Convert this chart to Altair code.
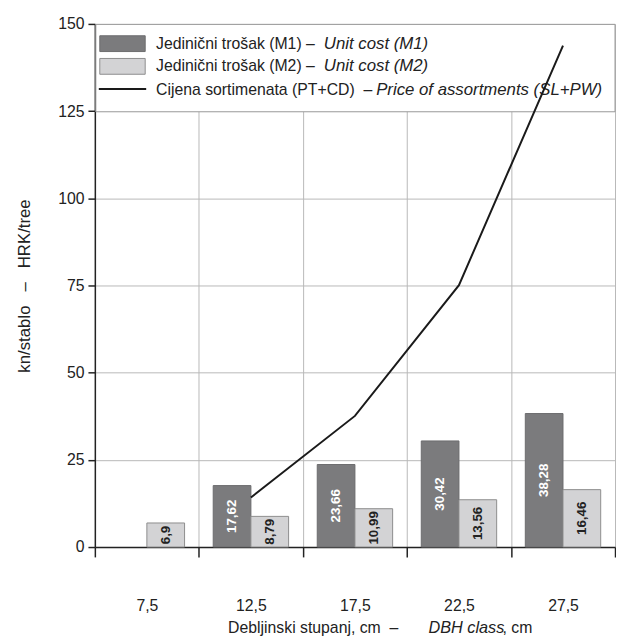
import altair as alt
import pandas as pd

# ---- data ----
dbh = ["7,5", "12,5", "17,5", "22,5", "27,5"]
m1 = [None, 17.62, 23.66, 30.42, 38.28]
m2 = [6.9, 8.79, 10.99, 13.56, 16.46]
price = [None, 14.2, 37.6, 75.1, 143.8]
series = ["M1", "M2"]
y_ticks = [0, 25, 50, 75, 100, 125, 150]

rows = []
for c, a, b in zip(dbh, m1, m2):
    if a is not None:
        rows.append({"dbh": c, "s": "M1", "v": a})
    if b is not None:
        rows.append({"dbh": c, "s": "M2", "v": b})
bars_df = pd.DataFrame(rows)
line_df = pd.DataFrame({"dbh": dbh, "price": price}).dropna()
one = pd.DataFrame({"k": [0]})

W, H = 527, 530
FONT = "Liberation Sans"
TXT = "#222222"
DARK = "#7b7b7d"
LIGHT = "#d3d3d5"
NB = "\u00a0"

xscale = alt.Scale(domain=dbh, paddingInner=0, paddingOuter=0)
xaxis = alt.Axis(title=None, labelAngle=0, tickBand="extent", tickSize=10,
                 tickColor=TXT, tickWidth=1.5, domainColor=TXT, domainWidth=1.5,
                 labelFontSize=16, labelFont=FONT, labelColor=TXT, labelPadding=41,
                 grid=True, gridColor="#b8b8b8", gridWidth=1)
yscale = alt.Scale(domain=[0, 150], nice=False)
yaxis = alt.Axis(title=f"kn/stablo{NB*3}–{NB*3}HRK/tree", values=y_ticks, tickSize=7,
                 tickColor=TXT, tickWidth=1.5, domainColor=TXT, domainWidth=1.5,
                 labelFontSize=16, labelFont=FONT, labelColor=TXT, labelPadding=4,
                 grid=True, gridColor="#b8b8b8", gridWidth=1,
                 titleFont=FONT, titleFontSize=17, titleFontWeight="normal",
                 titleColor=TXT, titleX=-71, titleY=H / 2, titleAngle=270,
                 titleAlign="center", titleBaseline="middle")

x = alt.X("dbh:N", scale=xscale, axis=xaxis)
xo = alt.XOffset("s:N", scale=alt.Scale(domain=series, paddingOuter=0.38, paddingInner=0))
is_m1 = "datum.s == 'M1'"

bars = alt.Chart(bars_df).mark_bar(strokeWidth=1).encode(
    x=x, xOffset=xo,
    y=alt.Y("v:Q", scale=yscale, axis=yaxis),
    fill=alt.condition(is_m1, alt.value(DARK), alt.value(LIGHT)),
    stroke=alt.condition(is_m1, alt.value("#6c6c6e"), alt.value("#8c8c8c")),
)

labels = alt.Chart(bars_df).transform_calculate(
    mid="datum.v / 2", lab="replace(toString(datum.v), '.', ',')"
).mark_text(angle=270, fontSize=13.5, fontWeight="bold", font=FONT,
            align="center", baseline="middle").encode(
    x=x, xOffset=xo,
    y=alt.Y("mid:Q", scale=yscale),
    text="lab:N",
    color=alt.condition(is_m1, alt.value("#ffffff"), alt.value(TXT)),
)

line = alt.Chart(line_df).mark_line(color="#1a1a1a", strokeWidth=2).encode(
    x=x, y=alt.Y("price:Q", scale=yscale)
)

# ---- hand-built legend (mixed regular / italic text) ----
box = alt.Chart(one).mark_rect(fill="white", stroke="#9a9a9a", strokeWidth=1).encode(
    x=alt.value(1), x2=alt.value(W), y=alt.value(0.5), y2=alt.value(89))
sym1 = alt.Chart(one).mark_rect(fill=DARK, stroke="#6c6c6e", strokeWidth=1).encode(
    x=alt.value(5), x2=alt.value(51), y=alt.value(12), y2=alt.value(28))
sym2 = alt.Chart(one).mark_rect(fill=LIGHT, stroke="#8c8c8c", strokeWidth=1).encode(
    x=alt.value(5), x2=alt.value(51), y=alt.value(35), y2=alt.value(51))
sym3 = alt.Chart(one).mark_rule(color="#1a1a1a", strokeWidth=2).encode(
    x=alt.value(4), x2=alt.value(52), y=alt.value(66))


def txt(s, xv, yv, italic=False, size=16):
    kw = dict(align="left", baseline="middle", fontSize=size, font=FONT, color=TXT, text=s)
    if italic:
        kw["fontStyle"] = "italic"
    return alt.Chart(one).mark_text(**kw).encode(x=alt.value(xv), y=alt.value(yv))


leg_texts = [
    txt("Jedinični trošak (M1) –", 62, 20),
    txt("Unit cost (M1)", 232, 20, True, 17),
    txt("Jedinični trošak (M2) –", 62, 43),
    txt("Unit cost (M2)", 232, 43, True, 17),
    txt(f"Cijena sortimenata (PT+CD){NB*2}–", 62, 67),
    txt("Price of assortments (SL+PW)", 285, 67, True, 17),
]

TY = 612
xtitle = [
    txt(f"Debljinski stupanj, cm{NB*2}–", 135, TY),
    txt("DBH class", 338, TY, True, 16.5),
    txt(", cm", 413, TY),
]

chart = alt.layer(bars, labels, box, sym1, sym2, sym3, *leg_texts, *xtitle, line).properties(
    width=W, height=H,
    autosize=alt.AutoSizeParams(type="none"),
    padding={"left": 88, "top": 12, "right": 1, "bottom": 86},
    background="white",
).configure_view(strokeWidth=0)

chart.save("out.html", embed_options={"renderer": "svg", "actions": False})
